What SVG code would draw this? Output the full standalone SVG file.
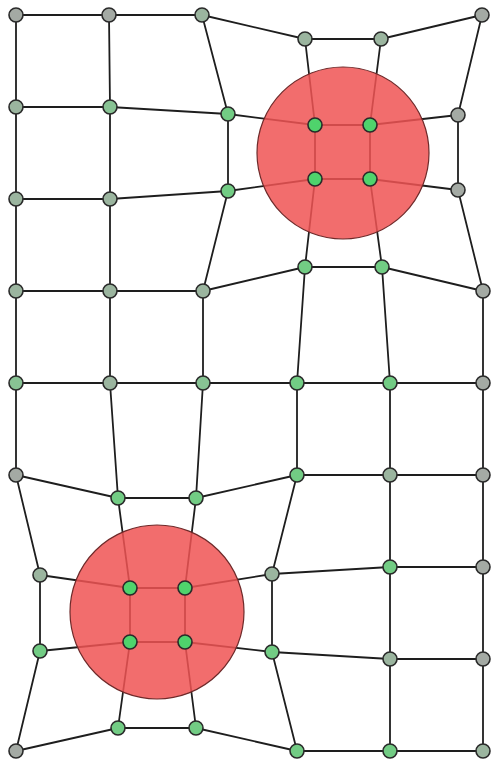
<svg xmlns="http://www.w3.org/2000/svg" width="492" height="762" viewBox="0 0 492 762">
<style>
.e{fill:none;stroke:#1e1e1e;stroke-width:1.8;stroke-linejoin:round}
.blob{fill:#f05454;fill-opacity:0.85;stroke:#6e2a2a;stroke-width:1.2}
.n circle{r:7;stroke:#2a2a2a;stroke-width:1.6}
.g0{fill:#a4aaa4}
.g1{fill:#9bb59f}
.g2{fill:#88c394}
.g3{fill:#72cc84}
.g4{fill:#4fd36c}
</style>
<rect width="492" height="762" fill="#ffffff"/>
<g id="connectors">
<polyline class="e" points="16,15 109,15 202,15 305,39 381,39 482,15"/>
<polyline class="e" points="16,107 110,107 228,114 315,125 370,125 458,115"/>
<polyline class="e" points="16,199 110,199 228,191 315,179 370,179 458,190"/>
<polyline class="e" points="16,291 110,291 203,291 305,267 382,267 483,291"/>
<polyline class="e" points="16,383 110,383 203,383 297,383 390,383 483,383"/>
<polyline class="e" points="16,475 118,498 196,498 297,475 390,475 483,475"/>
<polyline class="e" points="40,575 130,588 185,588 272,574 390,567 483,567"/>
<polyline class="e" points="40,651 130,642 185,642 272,652 390,659 483,659"/>
<polyline class="e" points="16,751 118,728 196,728 297,751 390,751 483,751"/>
<polyline class="e" points="16,15 16,107 16,199 16,291 16,383 16,475 40,575 40,651 16,751"/>
<polyline class="e" points="109,15 110,107 110,199 110,291 110,383 118,498 130,588 130,642 118,728"/>
<polyline class="e" points="202,15 228,114 228,191 203,291 203,383 196,498 185,588 185,642 196,728"/>
<polyline class="e" points="305,39 315,125 315,179 305,267 297,383 297,475 272,574 272,652 297,751"/>
<polyline class="e" points="381,39 370,125 370,179 382,267 390,383 390,475 390,567 390,659 390,751"/>
<polyline class="e" points="482,15 458,115 458,190 483,291 483,383 483,475 483,567 483,659 483,751"/>
</g>
<g id="regions">
<circle id="region-top" class="blob" cx="343" cy="153" r="86"/>
<circle id="region-bottom" class="blob" cx="157" cy="612" r="87"/>
</g>
<g id="nodes" class="n">
<g id="n0-0"><circle class="g0" cx="16" cy="15"/></g>
<g id="n0-1"><circle class="g0" cx="109" cy="15"/></g>
<g id="n0-2"><circle class="g1" cx="202" cy="15"/></g>
<g id="n0-3"><circle class="g1" cx="305" cy="39"/></g>
<g id="n0-4"><circle class="g1" cx="381" cy="39"/></g>
<g id="n0-5"><circle class="g0" cx="482" cy="15"/></g>
<g id="n1-0"><circle class="g1" cx="16" cy="107"/></g>
<g id="n1-1"><circle class="g2" cx="110" cy="107"/></g>
<g id="n1-2"><circle class="g3" cx="228" cy="114"/></g>
<g id="n1-3"><circle class="g4" cx="315" cy="125"/></g>
<g id="n1-4"><circle class="g4" cx="370" cy="125"/></g>
<g id="n1-5"><circle class="g0" cx="458" cy="115"/></g>
<g id="n2-0"><circle class="g1" cx="16" cy="199"/></g>
<g id="n2-1"><circle class="g1" cx="110" cy="199"/></g>
<g id="n2-2"><circle class="g3" cx="228" cy="191"/></g>
<g id="n2-3"><circle class="g4" cx="315" cy="179"/></g>
<g id="n2-4"><circle class="g4" cx="370" cy="179"/></g>
<g id="n2-5"><circle class="g0" cx="458" cy="190"/></g>
<g id="n3-0"><circle class="g1" cx="16" cy="291"/></g>
<g id="n3-1"><circle class="g1" cx="110" cy="291"/></g>
<g id="n3-2"><circle class="g1" cx="203" cy="291"/></g>
<g id="n3-3"><circle class="g3" cx="305" cy="267"/></g>
<g id="n3-4"><circle class="g3" cx="382" cy="267"/></g>
<g id="n3-5"><circle class="g0" cx="483" cy="291"/></g>
<g id="n4-0"><circle class="g2" cx="16" cy="383"/></g>
<g id="n4-1"><circle class="g1" cx="110" cy="383"/></g>
<g id="n4-2"><circle class="g2" cx="203" cy="383"/></g>
<g id="n4-3"><circle class="g3" cx="297" cy="383"/></g>
<g id="n4-4"><circle class="g3" cx="390" cy="383"/></g>
<g id="n4-5"><circle class="g0" cx="483" cy="383"/></g>
<g id="n5-0"><circle class="g0" cx="16" cy="475"/></g>
<g id="n5-1"><circle class="g3" cx="118" cy="498"/></g>
<g id="n5-2"><circle class="g3" cx="196" cy="498"/></g>
<g id="n5-3"><circle class="g3" cx="297" cy="475"/></g>
<g id="n5-4"><circle class="g1" cx="390" cy="475"/></g>
<g id="n5-5"><circle class="g0" cx="483" cy="475"/></g>
<g id="n6-0"><circle class="g1" cx="40" cy="575"/></g>
<g id="n6-1"><circle class="g4" cx="130" cy="588"/></g>
<g id="n6-2"><circle class="g4" cx="185" cy="588"/></g>
<g id="n6-3"><circle class="g1" cx="272" cy="574"/></g>
<g id="n6-4"><circle class="g3" cx="390" cy="567"/></g>
<g id="n6-5"><circle class="g0" cx="483" cy="567"/></g>
<g id="n7-0"><circle class="g3" cx="40" cy="651"/></g>
<g id="n7-1"><circle class="g4" cx="130" cy="642"/></g>
<g id="n7-2"><circle class="g4" cx="185" cy="642"/></g>
<g id="n7-3"><circle class="g3" cx="272" cy="652"/></g>
<g id="n7-4"><circle class="g1" cx="390" cy="659"/></g>
<g id="n7-5"><circle class="g0" cx="483" cy="659"/></g>
<g id="n8-0"><circle class="g0" cx="16" cy="751"/></g>
<g id="n8-1"><circle class="g3" cx="118" cy="728"/></g>
<g id="n8-2"><circle class="g3" cx="196" cy="728"/></g>
<g id="n8-3"><circle class="g3" cx="297" cy="751"/></g>
<g id="n8-4"><circle class="g3" cx="390" cy="751"/></g>
<g id="n8-5"><circle class="g1" cx="483" cy="751"/></g>
</g>
</svg>
